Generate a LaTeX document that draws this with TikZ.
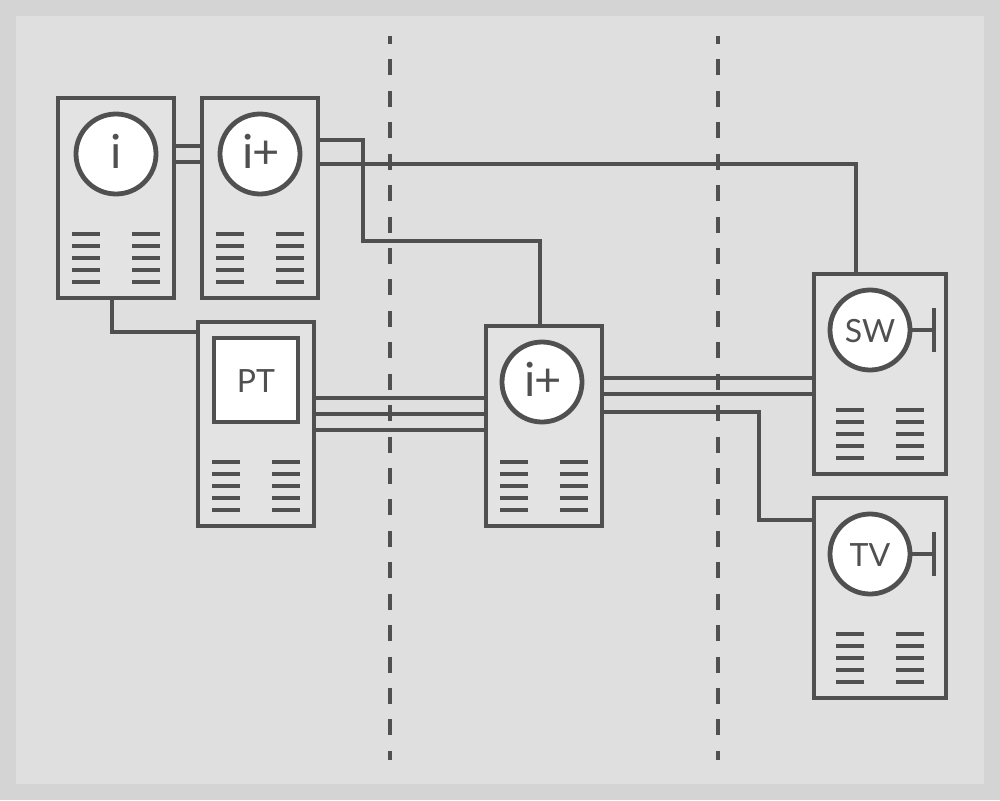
\documentclass[tikz,border=0pt]{standalone}
\usepackage{fontspec}
\setmainfont{Lato}
\definecolor{ink}{HTML}{505050}
\definecolor{pagebg}{HTML}{D4D4D4}
\definecolor{panelbg}{HTML}{DFDFDF}
\definecolor{boxbg}{HTML}{E3E3E3}
\tikzset{
  unitbox/.style={draw=ink,line width=4.8pt,fill=boxbg,inner sep=0pt,outer sep=0pt,minimum width=#1,minimum height=200pt},
  disc/.style={circle,draw=ink,line width=4.8pt,fill=white,inner sep=0pt,outer sep=0pt,minimum size=80pt,text=ink,font=\fontsize{#1}{#1}\selectfont},
  squarebox/.style={rectangle,draw=ink,line width=4.8pt,fill=white,inner sep=0pt,outer sep=0pt,minimum size=84pt,text=ink,font=\fontsize{32}{32}\selectfont},
  wire/.style={draw=ink,line width=4.6pt,line join=miter},
  barline/.style={draw=ink,line width=4.6pt},
  divider/.style={draw=ink,line width=4.6pt,dash pattern=on 16pt off 15.43pt,dash phase=8pt}
}
\newcommand{\barsat}[3]{% x1, x2, bottom y
  \foreach \k in {0,12,24,36,48}{
    \draw[barline] (#1,#3-\k) -- ++(28,0);
    \draw[barline] (#2,#3-\k) -- ++(28,0);
  }}
\newcommand{\lifted}[2]{\raisebox{#1}[0pt][0pt]{#2}}
\begin{document}
\begin{tikzpicture}[x=1pt,y=-1pt]
\useasboundingbox (0,0) rectangle (1000,800);
\fill[pagebg] (0,0) rectangle (1000,800);
\fill[panelbg] (16,16) rectangle (984,784);
% dividers
\coordinate (d1a) at (390,36); \coordinate (d1b) at (390,760);
\coordinate (d2a) at (718,36); \coordinate (d2b) at (718,760);
\draw[divider] (d1a) -- (d1b);
\draw[divider] (d2a) -- (d2b);
% units
\node[unitbox=116pt] (uI) at (116,198) {};
\node[unitbox=116pt] (uIP) at (260,198) {};
\node[unitbox=116pt,minimum height=204pt] (uPT) at (256,424) {};
\node[unitbox=116pt] (uMid) at (544,426) {};
\node[unitbox=132pt] (uSW) at (880,374) {};
\node[unitbox=132pt] (uTV) at (880,598) {};
% connectors
\draw[wire] (uI.east |- 0,146) -- (uIP.west |- 0,146);
\draw[wire] (uI.east |- 0,162) -- (uIP.west |- 0,162);
\draw[wire] (uIP.east |- 0,140) -| (363,241) -| (uMid.north -| 540,0);
\draw[wire] (uIP.east |- 0,164) -| (uSW.north -| 856,0);
\draw[wire] (uI.south -| 112,0) |- (uPT.west |- 0,332);
\draw[wire] (uPT.east |- 0,398) -- (uMid.west |- 0,398);
\draw[wire] (uPT.east |- 0,414) -- (uMid.west |- 0,414);
\draw[wire] (uPT.east |- 0,430) -- (uMid.west |- 0,430);
\draw[wire] (uMid.east |- 0,378) -- (uSW.west |- 0,378);
\draw[wire] (uMid.east |- 0,394) -- (uSW.west |- 0,394);
\draw[wire] (uMid.east |- 0,412) -| (759,520) -- (uTV.west |- 0,520);
% discs and square
\node[disc=47] (dI) at (116,154) {\lifted{-14pt}{i}};
\node[disc=47] (dIP) at (260,154) {\hspace{2pt}\lifted{-14pt}{i\kern-1.5pt+}};
\node[squarebox] (sPT) at (256,380) {\lifted{-12pt}{PT}};
\node[disc=47] (dMid) at (542,382) {\hspace{2pt}\lifted{-14pt}{i\kern-1.5pt+}};
\node[disc=32] (dSW) at (870,330) {\lifted{-12pt}{SW}};
\node[disc=32] (dTV) at (870,554) {\lifted{-12pt}{TV}};
% antenna stubs
\coordinate (tSW) at (934,330); \coordinate (tTV) at (934,554);
\draw[wire] (dSW.east) -- (tSW);
\draw[wire] (dTV.east) -- (tTV);
\draw[wire] (934,308) -- (934,352);
\draw[wire] (934,532) -- (934,576);
% bars
\barsat{72}{132}{282}
\barsat{216}{276}{282}
\barsat{212}{272}{510}
\barsat{500}{560}{510}
\barsat{836}{896}{458}
\barsat{836}{896}{682}
\end{tikzpicture}
\end{document}
